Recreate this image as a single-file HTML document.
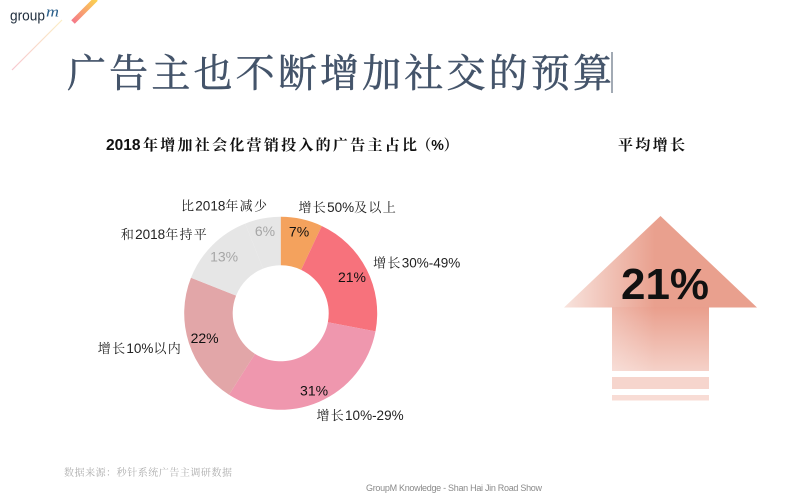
<!DOCTYPE html>
<html lang="zh">
<head>
<meta charset="utf-8">
<title>广告主也不断增加社交的预算</title>
<style>
html,body{margin:0;padding:0;background:#fff;width:799px;height:500px;overflow:hidden}
svg{display:block}
.cjk{font-family:"Liberation Sans","Noto Serif CJK SC",serif}
.lab{font-size:13.5px;fill:#222;text-anchor:middle}
.lab .han{font-size:13px;letter-spacing:1.3px}
.val{font-family:"Liberation Sans",sans-serif;font-size:14px;text-anchor:middle;dominant-baseline:central}
</style>
</head>
<body>
<svg id="slide" width="799" height="500" viewBox="0 0 799 500" xmlns="http://www.w3.org/2000/svg">
  <defs>
    <linearGradient id="stripe" x1="0" y1="1" x2="1" y2="0">
      <stop offset="0" stop-color="#f5798a"/>
      <stop offset="1" stop-color="#fbd34f"/>
    </linearGradient>
    <linearGradient id="thin" x1="0" y1="1" x2="1" y2="0">
      <stop offset="0" stop-color="#f7c6cf"/>
      <stop offset="1" stop-color="#fbeec4"/>
    </linearGradient>
    <linearGradient id="headFill" gradientUnits="userSpaceOnUse" x1="564" y1="0" x2="655" y2="0">
      <stop offset="0" stop-color="#f8e3dd"/>
      <stop offset="1" stop-color="#e9a08e"/>
    </linearGradient>
    <linearGradient id="stemFill" gradientUnits="userSpaceOnUse" x1="0" y1="307" x2="0" y2="372">
      <stop offset="0" stop-color="#e99e8c"/>
      <stop offset="1" stop-color="#f5d2c9"/>
    </linearGradient>
    <linearGradient id="stemFade" gradientUnits="userSpaceOnUse" x1="612" y1="0" x2="655" y2="0">
      <stop offset="0" stop-color="#fff" stop-opacity="0.28"/>
      <stop offset="1" stop-color="#fff" stop-opacity="0"/>
    </linearGradient>
  </defs>
  <rect width="799" height="500" fill="#fff"/>

  <g>
    <text x="10" y="20.5" font-family="Liberation Sans, sans-serif" font-size="14.5" fill="#1f2d3d" textLength="35" lengthAdjust="spacingAndGlyphs">group</text>
    <text x="46" y="16.5" font-family="Liberation Serif, serif" font-style="italic" font-size="15" fill="#2b5f8a" textLength="13" lengthAdjust="spacingAndGlyphs">m</text>
  </g>
  <line x1="12" y1="70" x2="62" y2="20" stroke="url(#thin)" stroke-width="1.2"/>
  <line x1="73" y1="22" x2="96" y2="-1" stroke="url(#stripe)" stroke-width="5"/>

  <text x="67" y="87" font-family="'Noto Serif CJK SC',serif" font-size="39" fill="#44546a" stroke="#44546a" stroke-width="0.5" textLength="545" lengthAdjust="spacing">广告主也不断增加社交的预算</text>
  <line x1="612" y1="52" x2="612" y2="93" stroke="#44546a" stroke-width="1"/>

  <text class="cjk" y="150" font-size="15" font-weight="700" fill="#111"><tspan x="106" font-size="15.5">2018</tspan><tspan x="143" textLength="274" lengthAdjust="spacing">年增加社会化营销投入的广告主占比</tspan><tspan x="417" textLength="41" lengthAdjust="spacingAndGlyphs">（%）</tspan></text>
  <text class="cjk" x="618" y="150" font-size="15" font-weight="700" fill="#111" textLength="67" lengthAdjust="spacing">平均增长</text>

  <g id="donut"></g>

  <g>
    <polygon points="660.5,216 757,307.5 564,307.5" fill="url(#headFill)"/>
    <rect x="612" y="307" width="97" height="64" fill="url(#stemFill)"/>
    <rect x="612" y="307" width="43" height="64" fill="url(#stemFade)"/>
    <rect x="612" y="377" width="97" height="12" fill="#f6d5cd"/>
    <rect x="612" y="395" width="97" height="5.5" fill="#f8dcd5"/>
    <text x="665" y="299" text-anchor="middle" font-family="Liberation Sans, sans-serif" font-weight="700" font-size="44" fill="#111" textLength="88" lengthAdjust="spacingAndGlyphs">21%</text>
  </g>

  <text class="cjk" x="64" y="476" font-size="10" fill="#adadad" textLength="168" lengthAdjust="spacing">数据来源：秒针系统广告主调研数据</text>
  <text x="366" y="491" font-family="Liberation Sans, sans-serif" font-size="9" fill="#8a8a8a" textLength="176" lengthAdjust="spacing">GroupM Knowledge - Shan Hai Jin Road Show</text>
</svg>
<script>
const categories = ['增长50%及以上', '增长30%-49%', '增长10%-29%', '增长10%以内', '和2018年持平', '比2018年减少'];
const values = [7, 21, 31, 22, 13, 6];
const valueLabels = ['7%', '21%', '31%', '22%', '13%', '6%'];

const sliceColors = ['#f4a25d', '#f7727c', '#ef97ae', '#e2a6a8', '#e6e6e6', '#e6e6e6'];
const valueColors = ['#111', '#111', '#111', '#111', '#a6a6a6', '#a6a6a6'];
const cx = 280.7, cy = 313.3, outerR = 96.5, innerR = 48;
const NS = 'http://www.w3.org/2000/svg';
const root = document.getElementById('donut');
const total = values.reduce(function (a, b) { return a + b; }, 0);

function angleOf(cum) { return cum / total * Math.PI * 2; }
function polar(r, a) { return [cx + r * Math.sin(a), cy - r * Math.cos(a)]; }
function slicePath(a0, a1) {
  const large = a1 - a0 > Math.PI ? 1 : 0;
  const p0 = polar(outerR, a0), p1 = polar(outerR, a1), p2 = polar(innerR, a1), p3 = polar(innerR, a0);
  return 'M' + p0[0] + ' ' + p0[1] + 'A' + outerR + ' ' + outerR + ' 0 ' + large + ' 1 ' + p1[0] + ' ' + p1[1] +
    'L' + p2[0] + ' ' + p2[1] + 'A' + innerR + ' ' + innerR + ' 0 ' + large + ' 0 ' + p3[0] + ' ' + p3[1] + 'Z';
}
function fillLabel(node, str) {
  str.match(/[\u4e00-\u9fff]+|[^\u4e00-\u9fff]+/g).forEach(function (run) {
    const ts = document.createElementNS(NS, 'tspan');
    if (/[\u4e00-\u9fff]/.test(run)) ts.setAttribute('class', 'han');
    ts.textContent = run;
    node.appendChild(ts);
  });
}
/* category-label nudges relative to the slice's outer edge, by slice order */
const labelNudgeX = [46, 50, 41, -49, -48, -38];
const labelNudgeY = [-12, -7, 13, 5, -11, -13];

let cum = 0;
values.forEach(function (v, i) {
  const a0 = angleOf(cum), a1 = angleOf(cum + v), mid = (a0 + a1) / 2;
  cum += v;

  const path = document.createElementNS(NS, 'path');
  path.setAttribute('d', slicePath(a0, a1));
  path.setAttribute('fill', sliceColors[i]);
  
  
  root.appendChild(path);

  const vp = polar(v < 10 || v > 30 ? 84 : 80, mid);
  const vt = document.createElementNS(NS, 'text');
  vt.setAttribute('x', vp[0]);
  vt.setAttribute('y', vp[1]);
  vt.setAttribute('class', 'val');
  vt.setAttribute('fill', valueColors[i]);
  
  
  vt.textContent = valueLabels[i];
  root.appendChild(vt);

  const lp = polar(outerR, mid);
  const lt = document.createElementNS(NS, 'text');
  lt.setAttribute('x', lp[0] + labelNudgeX[i]);
  lt.setAttribute('y', lp[1] + labelNudgeY[i] + 5);
  lt.setAttribute('class', 'lab cjk');
  
  
  fillLabel(lt, categories[i]);
  root.appendChild(lt);
});
</script>
</body>
</html>
